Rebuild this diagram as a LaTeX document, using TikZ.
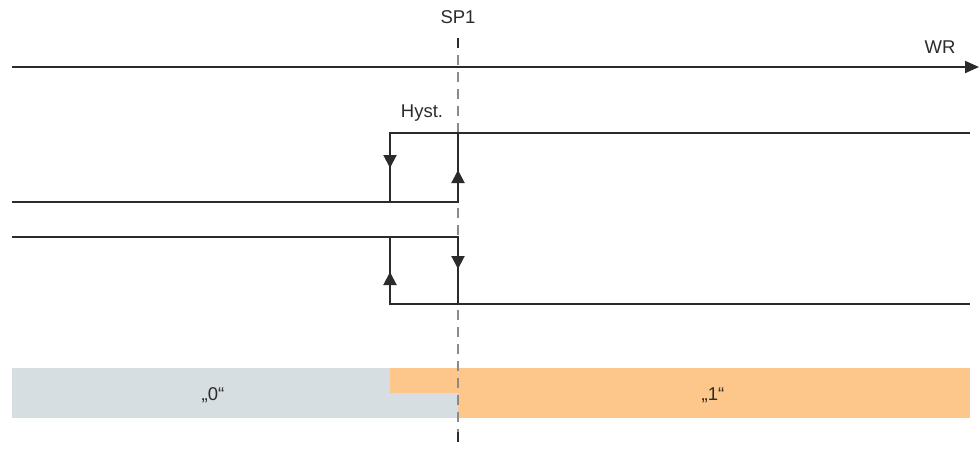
\documentclass[tikz,border=0pt]{standalone}
\usepackage{fontspec}
\setmainfont{Liberation Sans}
\usetikzlibrary{arrows.meta}

\definecolor{linegray}{HTML}{2B2B2B}
\definecolor{dashgray}{HTML}{8A8A8A}
\definecolor{zonegray}{HTML}{D7DEE2}
\definecolor{zoneorange}{HTML}{FDC78B}

\tikzset{
  signal/.style={draw=linegray, line width=2pt},
  midtip/.style={-{Triangle[length=13pt, width=13pt]}},
  lbl/.style={font=\fontsize{18.5}{21}\selectfont, text=linegray, inner sep=0pt}
}

\begin{document}
\begin{tikzpicture}[x=1pt, y=-1pt]
      \useasboundingbox (0,0) rectangle (979,448);

      % Zones
      \fill[zonegray] (12,368) rectangle (458,418);
      \fill[zoneorange] (458,368) rectangle (970,418);
      \fill[zoneorange] (390,368) rectangle (458,393);
      \node[lbl] (zero) at (213,395) {„0“};
      \node[lbl] (one) at (713,395) {„1“};

      % Switching point
      \coordinate (sptop) at (458,38);
      \coordinate (spbot) at (458,442);
      \draw[dashgray, line width=1.5pt, dash pattern=on 10pt off 7pt] (sptop) -- (spbot);
      \draw[linegray, line width=2pt] (458,38) -- (458,48);
      \draw[linegray, line width=2pt] (458,432) -- (458,442);
      \node[lbl] (sp) at (458,17) {SP1};

      % Axis
      \coordinate (wrstart) at (12,67);
      \coordinate (wrend) at (979,67);
      \draw[signal, -{Triangle[length=14pt, width=12pt]}] (wrstart) -- (wrend);
      \node[lbl] (wr) at (940,47) {WR};

      \node[lbl] (hyst) at (422,113) {Hyst.};

      % Upper curve
      \coordinate (a1) at (12,202);
      \coordinate (a2) at (458,202);
      \coordinate (a3) at (458,133);
      \coordinate (a4) at (390,133);
      \coordinate (a5) at (390,202);
      \coordinate (a6) at (970,133);
      \draw[signal] (a1) -- (a2) -- (a3);
      \draw[signal] (a5) -- (a4) -- (a6);
      \draw[signal, midtip] (a4) -- (390,168);
      \draw[signal, midtip] (a2) -- (458,170);

      % Lower curve
      \coordinate (b1) at (12,237);
      \coordinate (b2) at (458,237);
      \coordinate (b3) at (458,304);
      \coordinate (b4) at (390,304);
      \coordinate (b5) at (390,237);
      \coordinate (b6) at (970,304);
      \draw[signal] (b1) -- (b2) -- (b3);
      \draw[signal] (b5) -- (b4) -- (b6);
      \draw[signal, midtip] (b2) -- (458,269);
      \draw[signal, midtip] (b4) -- (390,272);
    \end{tikzpicture}
\end{document}
